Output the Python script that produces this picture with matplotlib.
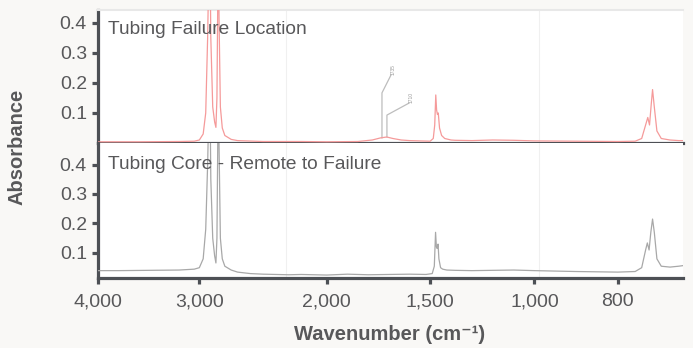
import numpy as np
import matplotlib
matplotlib.use("Agg")
import matplotlib.pyplot as plt
from matplotlib.scale import FuncScale

plt.rcParams['font.family'] = ['Liberation Sans', 'DejaVu Sans']

# ---------------- data ----------------
# Tubing failure location (red), wavenumber (cm-1) and absorbance
wn_fail = [4000, 3600, 3200, 3050, 3000, 2970, 2950, 2935, 2925, 2918, 2910, 2895,
           2880, 2870, 2862, 2855, 2850, 2845, 2835, 2820, 2800, 2750, 2700, 2500,
           2200, 2000, 1850, 1780, 1740, 1710, 1680, 1640, 1600, 1500, 1485, 1478,
           1473, 1469, 1465, 1461, 1455, 1445, 1430, 1400, 1380, 1300, 1200, 1100,
           1000, 900, 800, 760, 745, 736, 731, 727, 723, 720, 716, 710, 700, 680,
           660, 650]
ab_fail = [0.004, 0.004, 0.005, 0.006, 0.010, 0.030, 0.100, 0.350, 0.600, 0.700, 0.350, 0.120,
           0.070, 0.052, 0.150, 0.500, 0.600, 0.400, 0.120, 0.050, 0.025, 0.012, 0.008, 0.005,
           0.005, 0.004, 0.005, 0.010, 0.017, 0.020, 0.015, 0.010, 0.008, 0.006, 0.015, 0.060,
           0.160, 0.110, 0.095, 0.100, 0.050, 0.025, 0.015, 0.010, 0.009, 0.008, 0.010, 0.009,
           0.007, 0.006, 0.005, 0.006, 0.015, 0.060, 0.085, 0.060, 0.130, 0.178, 0.120, 0.040,
           0.015, 0.010, 0.008, 0.008]

# Tubing core - remote to failure (grey)
wn_core = [4000, 3800, 3500, 3200, 3050, 3000, 2970, 2950, 2935, 2925, 2918, 2910,
           2895, 2880, 2870, 2862, 2855, 2850, 2845, 2835, 2820, 2800, 2750, 2700,
           2600, 2500, 2400, 2300, 2200, 2100, 2000, 1900, 1800, 1700, 1600, 1520,
           1490, 1480, 1474, 1470, 1466, 1462, 1458, 1450, 1440, 1420, 1380, 1300,
           1200, 1100, 1000, 900, 800, 760, 745, 736, 732, 728, 724, 720, 716, 710,
           700, 680, 660, 650]
ab_core = [0.040, 0.040, 0.041, 0.042, 0.045, 0.050, 0.080, 0.180, 0.400, 0.600, 0.700, 0.350,
           0.150, 0.090, 0.066, 0.150, 0.500, 0.600, 0.450, 0.150, 0.080, 0.055, 0.042, 0.035,
           0.030, 0.028, 0.027, 0.026, 0.027, 0.026, 0.025, 0.028, 0.026, 0.027, 0.028, 0.027,
           0.030, 0.055, 0.170, 0.120, 0.115, 0.130, 0.080, 0.050, 0.045, 0.042, 0.041, 0.040,
           0.041, 0.042, 0.040, 0.037, 0.035, 0.037, 0.050, 0.110, 0.134, 0.110, 0.170, 0.215,
           0.170, 0.080, 0.055, 0.052, 0.055, 0.057]

panel_titles = ["Tubing Failure Location", "Tubing Core - Remote to Failure"]
x_ticks = [4000, 3000, 2000, 1500, 1000, 800]
x_tick_labels = ["4,000", "3,000", "2,000", "1,500", "1,000", "800"]
y_ticks = [0.1, 0.2, 0.3, 0.4]
y_tick_labels = ["0.1", "0.2", "0.3", "0.4"]

# peak annotation leaders (wavenumber, absorbance): base, elbow, end ; label
annot_labels = ["1735", "1710"]
annot_base = [(1733, 0.017), (1709, 0.020)]
annot_elbow = [(1733, 0.167), (1709, 0.093)]
annot_end = [(1689, 0.227), (1602, 0.133)]

# x-axis break scale (piecewise linear axis as in the spectrum plot)
scale_wn = [650, 800, 1000, 1500, 2000, 3000, 4000]
scale_pos = [683, 618, 535, 431, 328, 201, 100]

faint_grid = [2323, 990]

# ---------------- styling ----------------
BG = '#f9f8f6'
SPINE = '#4d5055'
TXT = '#58585a'
RED = '#f59a9a'
GREY = '#a8a8a8'

# increasing mapping (negated screen position) so the axis can be inverted normally
def fwd(w):
    w = np.asarray(w, dtype=float)
    return -np.interp(w, scale_wn, scale_pos)

def inv(p):
    p = -np.asarray(p, dtype=float)
    return np.interp(p, scale_pos[::-1], scale_wn[::-1])

W, H = 693, 348
fig = plt.figure(figsize=(W / 100, H / 100), dpi=100, facecolor=BG)

left, right = 98 / W, 683 / W
y_top, y_mid, y_bot = 10, 143, 278
ax1 = fig.add_axes([left, 1 - y_mid / H, right - left, (y_mid - y_top) / H])
ax2 = fig.add_axes([left, 1 - y_bot / H, right - left, (y_bot - y_mid) / H])

for ax in (ax1, ax2):
    ax.set_facecolor('white')
    ax.set_xscale(FuncScale(ax, (fwd, inv)))
    ax.set_xlim(4000, 650)
    for w in faint_grid:
        ax.axvline(w, color='#f0f0f0', lw=0.8, zorder=0)
    ax.spines['right'].set_visible(False)
    ax.spines['top'].set_visible(False)
    for s in ('left', 'bottom'):
        ax.spines[s].set_color(SPINE)
        ax.spines[s].set_linewidth(2.3)
    ax.set_yticks(y_ticks)
    ax.set_yticklabels(y_tick_labels)
    ax.tick_params(axis='y', direction='out', length=4, width=2.3, color=SPINE,
                   labelcolor=TXT, labelsize=14, pad=4)
    ax.set_xticks(x_ticks)

ax1.spines['top'].set_visible(True)
ax1.spines['top'].set_color('#e8e8e8')
ax1.spines['top'].set_linewidth(1.5)

ax1.set_ylim(0, 0.443)
ax2.set_ylim(0.015, 0.473)

ax1.plot(wn_fail, ab_fail, color=RED, lw=0.9, zorder=3)
ax2.plot(wn_core, ab_core, color=GREY, lw=0.9, zorder=3)

ax1.tick_params(axis='x', which='both', length=0, labelbottom=False)
ax2.set_xticklabels(x_tick_labels)
ax2.tick_params(axis='x', direction='out', length=4, width=2.3, color=SPINE,
                labelcolor=TXT, labelsize=14, pad=7)

ax1.text(0.017, 0.85, panel_titles[0], transform=ax1.transAxes, color=TXT,
         fontsize=13.8, va='center', ha='left', zorder=4)
ax2.text(0.017, 0.84, panel_titles[1], transform=ax2.transAxes, color=TXT,
         fontsize=13.8, va='center', ha='left', zorder=4)

for lab, b, e, t in zip(annot_labels, annot_base, annot_elbow, annot_end):
    ax1.plot([b[0], e[0], t[0]], [b[1], e[1], t[1]], color='#bdbdbd', lw=0.9, zorder=2)
    ax1.text(t[0], t[1], lab, rotation=90, fontsize=3.5, color='#999999',
             ha='left', va='bottom', zorder=2)

fig.text(17 / W, 1 - 147 / H, "Absorbance", rotation=90, fontsize=14.5, fontweight='bold',
         color=TXT, ha='center', va='center')
fig.text(390 / W, 1 - 334 / H, "Wavenumber (cm\u207b\u00b9)", fontsize=14.5,
         fontweight='bold', color=TXT, ha='center', va='center')

fig.savefig("out.png", dpi=100, facecolor=BG)
